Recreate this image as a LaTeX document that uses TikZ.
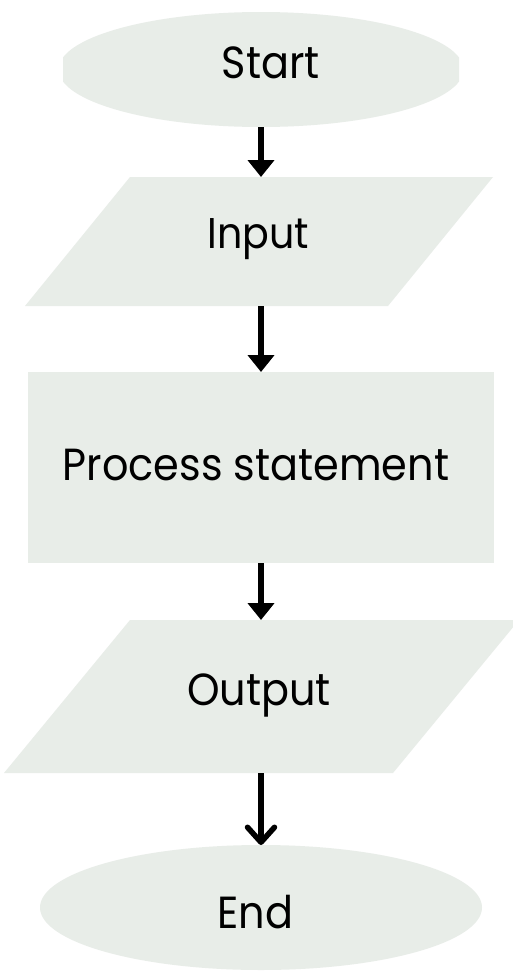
\documentclass[tikz,border=0pt]{standalone}
\usepackage{fontspec}
\setmainfont{Poppins}[FakeStretch=0.92]
\usetikzlibrary{arrows.meta,calc,shapes.geometric}
\definecolor{shapefill}{RGB}{232,237,232}

\begin{document}
\begin{tikzpicture}[x=1pt,y=-1pt,
  box/.style={fill=shapefill, draw=none, inner sep=0pt, outer sep=0pt},
  terminal/.style={box, ellipse},
  frame/.style={draw=none, inner sep=0pt, outer sep=0pt, rectangle},
  label/.style={anchor=base, inner sep=0pt, text=black, font=\fontsize{45}{48}\selectfont},
  flow/.style={line width=5.5pt, -{Triangle[width=26pt,length=17pt]}},
  lastflow/.style={line width=5.5pt, -{Straight Barb[width=27pt,length=15pt,round]}},
]
% page
\fill[white] (0,0) rectangle (512,972);
\useasboundingbox (0,0) rectangle (512,972);

% terminals
\begin{scope}
  \clip (63,0) rectangle (459,200);
  \node[terminal, minimum width=405pt, minimum height=115pt] (start) at (261,69.5) {};
\end{scope}
\node[terminal, minimum width=442pt, minimum height=125pt] (end) at (261,907.5) {};

% input / output parallelograms
\node[frame, minimum width=468pt, minimum height=129pt] (input) at (259,241.5) {};
\fill[shapefill] ($(input.north west)+(105,0)$) -- (input.north east)
  -- ($(input.south east)-(105,0)$) -- (input.south west) -- cycle;
\node[frame, minimum width=515pt, minimum height=153pt] (output) at (261.5,696.5) {};
\fill[shapefill] ($(output.north west)+(126,0)$) -- (output.north east)
  -- ($(output.south east)-(126,0)$) -- (output.south west) -- cycle;

% process
\node[box, rectangle, minimum width=466pt, minimum height=191pt] (process) at (261,467.5) {};

% texts
\node[label] (starttext) at (270.8,78) {Start};
\node[label, font=\fontsize{43}{46}\selectfont] (inputtext) at (258.5,248) {Input};
\node[label] (processtext) at (256,480) {Process statement};
\node[label] (outputtext) at (259,705) {Output};
\node[label] (endtext) at (255.5,928) {End};

% connectors
\draw[flow] (start.south) -- (start.south |- input.north);
\draw[flow] (start.south |- input.south) -- (process.north);
\draw[flow] (process.south) -- (process.south |- output.north);
\draw[lastflow] (process.south |- output.south) -- (end.north);
\end{tikzpicture}
\end{document}
